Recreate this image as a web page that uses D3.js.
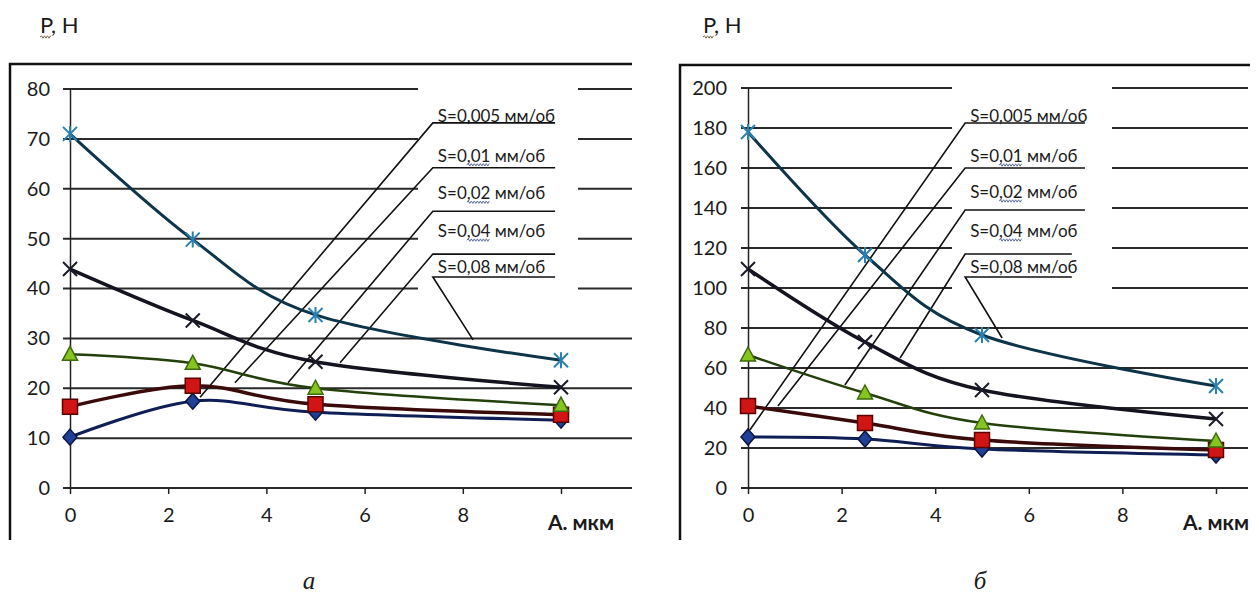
<!DOCTYPE html>
<html>
<head>
<meta charset="utf-8">
<script src="https://cdn.jsdelivr.net/npm/d3@7"></script>
<style>
  body { margin: 0; background: #fff; }
  text { font-family: Lato, "Open Sans", sans-serif; fill: #1a1a1a; }
</style>
</head>
<body>
<div id="wrapper"></div>
<script>
// x values (A, мкм) shared by both panels
const xVals = [0, 2.5, 5, 10];
const feedNames = ["S=0,005 мм/об", "S=0,01 мм/об", "S=0,02 мм/об", "S=0,04 мм/об", "S=0,08 мм/об"];

// panel a
const a_s005 = [10.2, 17.4, 15.2, 13.6];
const a_s01 = [16.3, 20.5, 16.8, 14.7];
const a_s02 = [26.8, 25.0, 20.0, 16.6];
const a_s04 = [43.9, 33.6, 25.3, 20.2];
const a_s08 = [71.0, 49.8, 34.7, 25.6];
// panel б
const b_s005 = [25.5, 24.5, 19.5, 16.5];
const b_s01 = [41.0, 32.5, 24.0, 19.0];
const b_s02 = [66.5, 47.5, 32.5, 23.5];
const b_s04 = [109.5, 73.0, 49.0, 34.5];
const b_s08 = [178.0, 116.5, 76.5, 51.0];

const yTicksA = [0, 10, 20, 30, 40, 50, 60, 70, 80];
const yTicksB = [0, 20, 40, 60, 80, 100, 120, 140, 160, 180, 200];
const xTicks = [0, 2, 4, 6, 8, 10];
const yTitle = "P, H";
const xTitle = "А. мкм";

// annotation leaders (data units): where each leader touches its curve
const leadEndA = [[2.65, 18.2], [3.36, 21.1], [4.44, 21.1], [5.50, 25.1], [8.21, 29.7]];
const shelfYA = [73.2, 64.2, 55.5, 46.9, 42.3];
const leadEndB = [[0.04, 29], [0.64, 41], [2.07, 51.5], [3.25, 65], [5.43, 75]];
const shelfYB = [182.5, 160, 139, 117, 105.5];

const W = 1259, H = 601;
const svg = d3.select("#wrapper").append("svg")
    .attr("width", W).attr("height", H);

//styles per series: diamond, square, triangle, x, asterisk
const styles = [
    { line: "#0f1f55", lw: 3, marker: "diamond", fill: "#1f4096", stroke: "#0a1640" },
    { line: "#3b0b0b", lw: 3.5, marker: "square", fill: "#d11414", stroke: "#5a0000" },
    { line: "#24400c", lw: 2.5, marker: "triangle", fill: "#86c51f", stroke: "#3d6a0a" },
    { line: "#141420", lw: 3.5, marker: "x", fill: "none", stroke: "#1a1a2a" },
    { line: "#0d3448", lw: 3, marker: "star", fill: "none", stroke: "#2a80b0" }
];
const labelLift = [1, 6, 12, 17, 4];

function squiggle(g, x0, x1, y, color) {
    let p = `M${x0},${y}`;
    let up = true;
    for (let x = x0 + 1.5; x <= x1; x += 1.5) {
        p += `L${x},${y + (up ? -1.2 : 1.2)}`;
        up = !up;
    }
    g.append("path").attr("d", p).attr("fill", "none")
        .attr("stroke", color).attr("stroke-width", 1);
}

function drawPanel(cfg) {
    const g = svg.append("g");
    const x = d3.scaleLinear().domain([0, 10]).range(cfg.xRange);
    const y = d3.scaleLinear().domain([0, cfg.yMax]).range(cfg.yRange);

    // frame (left + top)
    g.append("path")
        .attr("d", `M${cfg.frame[0]},540V${cfg.frame[1]}H${cfg.frame[2]}`)
        .attr("fill", "none").attr("stroke", "#111").attr("stroke-width", 2.5);

    // gridlines
    g.selectAll("line.grid").data(cfg.yTicks).enter().append("line")
        .attr("class", "grid")
        .attr("x1", x(0) - 7).attr("x2", cfg.gridRight)
        .attr("y1", d => y(d)).attr("y2", d => y(d))
        .attr("stroke", "#2a2a2a").attr("stroke-width", 2);

    // white box behind the labels
    g.append("rect")
        .attr("x", cfg.box[0]).attr("width", cfg.box[1] - cfg.box[0])
        .attr("y", 80).attr("height", cfg.box[2] - 80)
        .attr("fill", "#fff");

    // y axis
    const yAxis = g.append("g")
        .attr("transform", `translate(${x(0)},0)`)
        .call(d3.axisLeft(y).tickValues(cfg.yTicks).tickSize(7).tickSizeOuter(0).tickPadding(cfg.yPad));
    yAxis.select(".domain").attr("stroke", "#222").attr("stroke-width", 1.5);
    yAxis.selectAll(".tick line").remove();
    yAxis.selectAll("text").style("font-size", "20px").attr("fill", "#1a1a1a");

    // x axis
    const xAxis = g.append("g")
        .attr("transform", `translate(0,${y(0)})`)
        .call(d3.axisBottom(x).tickValues(xTicks).tickSize(6).tickSizeOuter(0).tickPadding(14)
            .tickFormat(d => d === 10 ? "" : d));
    xAxis.select(".domain").remove();
    xAxis.selectAll(".tick line").attr("stroke", "#222").attr("stroke-width", 1.5);
    xAxis.selectAll("text").style("font-size", "20px").attr("fill", "#1a1a1a");

    g.append("text")
        .attr("x", x(10) + cfg.xTitleShift).attr("y", y(0) + 42)
        .attr("text-anchor", "middle")
        .style("font-size", "21px").style("font-weight", "bold")
        .text(xTitle);

    // y title
    const yt = g.append("text")
        .attr("x", cfg.titleX).attr("y", 33)
        .style("font-size", "22px")
        .text(yTitle);
    const pw = yt.node().getSubStringLength(0, 1);
    squiggle(g, cfg.titleX, cfg.titleX + pw, 37, "#7a6a50");

    // caption
    g.append("text")
        .attr("x", cfg.capX).attr("y", 589)
        .attr("text-anchor", "middle")
        .style("font-family", "'Liberation Serif', 'DejaVu Serif', serif")
        .style("font-style", "italic").style("font-size", "25px")
        .text(cfg.caption);

    // leaders and labels
    cfg.leadEnd.forEach((e, i) => {
        const sx = x(cfg.shelfX), sy = y(cfg.shelfY[i]);
        g.append("path")
            .attr("d", `M${x(e[0])},${y(e[1])}L${sx},${sy}H${x(cfg.shelfEnd[i])}`)
            .attr("fill", "none").attr("stroke", "#111").attr("stroke-width", 1.6);
        const t = g.append("text")
            .attr("x", sx + 5).attr("y", sy - labelLift[i])
            .style("font-size", "17px")
            .text(feedNames[i]);
        if (i >= 1 && i <= 3) {
            const n = t.node();
            const x0 = sx + 5 + n.getSubStringLength(0, 3);
            const w = n.getSubStringLength(3, 3);
            squiggle(g, x0, x0 + w, sy - labelLift[i] + 3, "#5a6a9a");
        }
    });

    // curves
    const line = d3.line()
        .x((d, i) => x(xVals[i]))
        .y(d => y(d))
        .curve(d3.curveCardinal.tension(0));

    cfg.series.forEach((vals, k) => {
        const st = styles[k];
        g.append("path").datum(vals)
            .attr("d", line)
            .attr("fill", "none").attr("stroke", st.line)
            .attr("stroke-width", st.lw);
    });

    // markers
    cfg.series.forEach((vals, k) => {
        const st = styles[k];
        const mg = g.append("g");
        vals.forEach((v, i) => {
            const cx = x(xVals[i]), cy = y(v);
            let p;
            if (st.marker === "diamond") p = "M0,-8L7,0L0,8L-7,0Z";
            else if (st.marker === "square") p = "M-7.5,-7.5H7.5V7.5H-7.5Z";
            else if (st.marker === "triangle") p = "M0,-8L7.5,6H-7.5Z";
            if (p) {
                mg.append("path").attr("d", p)
                    .attr("transform", `translate(${cx},${cy})`)
                    .attr("fill", st.fill).attr("stroke", st.stroke).attr("stroke-width", 1.5);
            } else {
                const s = 7;
                let q = `M${-s},${-s}L${s},${s}M${-s},${s}L${s},${-s}`;
                if (st.marker === "star") q += `M0,${-s - 1}V${s + 1}`;
                mg.append("path").attr("d", q)
                    .attr("transform", `translate(${cx},${cy})`)
                    .attr("fill", "none").attr("stroke", st.stroke).attr("stroke-width", 2);
            }
        });
    });
}

drawPanel({
    xRange: [70, 561], yRange: [488, 89], yMax: 80, yTicks: yTicksA, yPad: 13,
    frame: [10, 64, 632], gridRight: 632, box: [418, 578, 292],
    titleX: 40, capX: 309, caption: "а", xTitleShift: 20,
    leadEnd: leadEndA, shelfX: 7.39, shelfY: shelfYA, shelfEnd: [9.88, 9.88, 9.88, 9.88, 9.88],
    series: [a_s005, a_s01, a_s02, a_s04, a_s08]
});

drawPanel({
    xRange: [748, 1216], yRange: [488, 88], yMax: 200, yTicks: yTicksB, yPad: 14,
    frame: [680, 65, 1250], gridRight: 1248, box: [952, 1112, 294],
    titleX: 703, capX: 980, caption: "б", xTitleShift: 0,
    leadEnd: leadEndB, shelfX: 4.64, shelfY: shelfYB, shelfEnd: [7.2, 7.2, 7.2, 6.92, 6.92],
    series: [b_s005, b_s01, b_s02, b_s04, b_s08]
});
</script>
</body>
</html>
